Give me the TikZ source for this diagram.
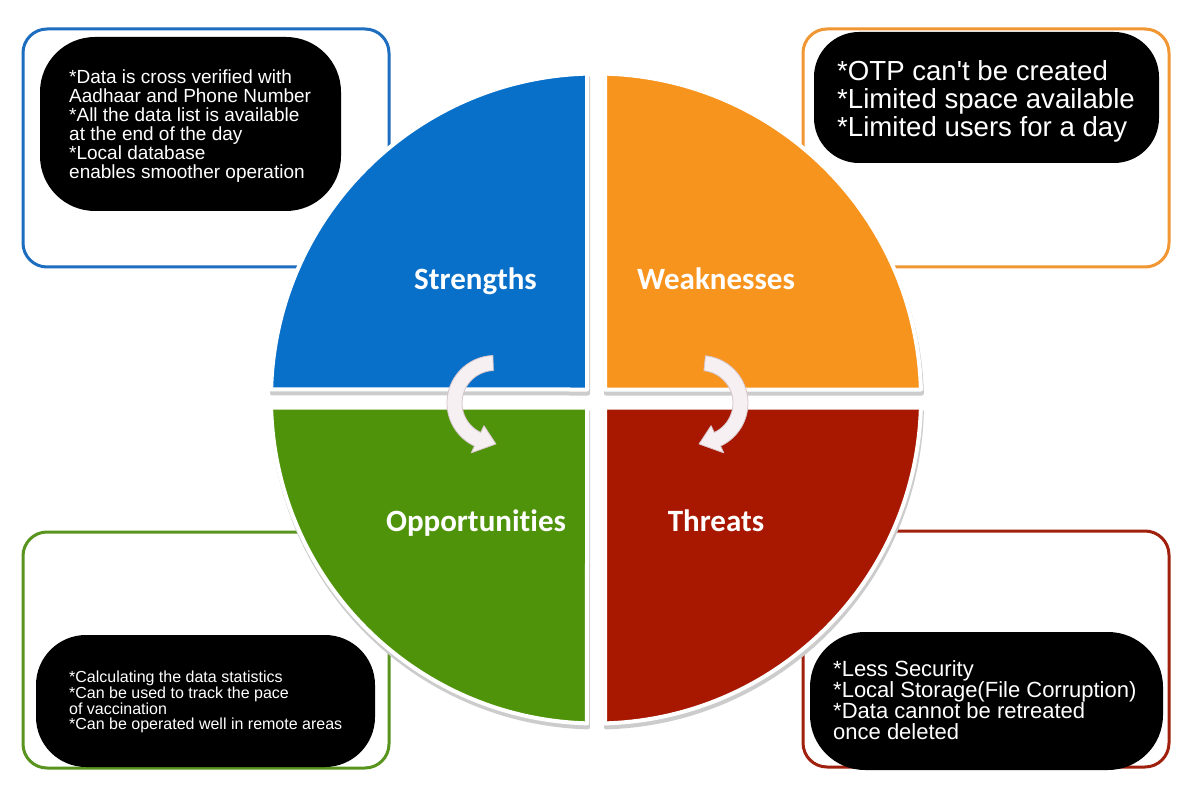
\documentclass[tikz,border=0pt]{standalone}
\usepackage{fontspec}
\setmainfont{Liberation Sans}
\newfontfamily\arialfont{Liberation Sans}
\newfontfamily\labelfont{Carlito}[Ligatures=NoCommon]
\usetikzlibrary{calc}

\definecolor{qblue}{RGB}{9,112,201}
\definecolor{qorange}{RGB}{247,148,30}
\definecolor{qgreen}{RGB}{79,147,11}
\definecolor{qred}{RGB}{168,24,0}
\definecolor{bblue}{RGB}{30,110,192}
\definecolor{borange}{RGB}{240,150,50}
\definecolor{bgreen}{RGB}{88,148,30}
\definecolor{bred}{RGB}{160,32,14}
\definecolor{arrowfill}{RGB}{246,240,242}
\definecolor{arrowedge}{RGB}{215,198,204}

\begin{document}
\begin{tikzpicture}[x=1pt,y=1pt,
  outerbox/.style={line width=3pt, rounded corners=24pt},
  blackbox/.style={fill=black},
  quad/.style={draw=white, line width=4pt, line join=round},
  qshadow/.style={fill=black!20, draw=black!20, line width=4pt, line join=round},
  qlabel/.style={text=white, font=\labelfont\bfseries\fontsize{31}{36}\selectfont, anchor=base, inner sep=0pt},
  itemtext/.style={text=white, align=left, anchor=north west, inner sep=0pt},
  cyc/.style={fill=arrowfill, draw=arrowedge, line width=0.8pt, line join=round},
  cycshadow/.style={fill=black!45, draw=none, opacity=0.45}
]
\useasboundingbox (0,0) rectangle (1202,-794);
\fill[white] (0,0) rectangle (1202,-794);

% outer frames
\draw[outerbox, draw=bblue]   (23,-29)  rectangle (389,-267);
\draw[outerbox, draw=borange] (803,-29) rectangle (1169,-267);
\draw[outerbox, draw=bgreen]  (23,-532) rectangle (389,-768);
\draw[outerbox, draw=bred]    (803,-531) rectangle (1169,-767);

% black text boxes
\fill[blackbox, rounded corners=55pt] (40,-37)  rectangle (341,-211);
\fill[blackbox, rounded corners=45pt] (814,-32) rectangle (1159,-163);
\fill[blackbox, rounded corners=50pt] (36,-635) rectangle (375,-767);
\fill[blackbox, rounded corners=55pt] (810,-632) rectangle (1163,-770);

\node[itemtext, font=\arialfont\fontsize{19}{18.9}\selectfont] (stxt) at (69,-70)
  {*Data is cross verified with\\Aadhaar and Phone Number\\*All the data list is available\\at the end of the day\\*Local database\\enables smoother operation};
\node[itemtext, font=\arialfont\fontsize{27.6}{28.3}\selectfont] (wtxt) at (837,-60)
  {*OTP can't be created\\*Limited space available\\*Limited users for a day};
\node[itemtext, font=\arialfont\fontsize{16}{15.7}\selectfont] (otxt) at (69,-671)
  {*Calculating the data statistics\\*Can be used to track the pace\\of vaccination\\*Can be operated well in remote areas};
\node[itemtext, font=\arialfont\fontsize{22}{21}\selectfont] (ttxt) at (833,-660)
  {*Less Security\\*Local Storage(File Corruption)\\*Data cannot be retreated\\once deleted};

% quadrant shadows
\begin{scope}[yshift=-4pt, xshift=1pt]
\fill[qshadow] (587,-389.5) -- (587,-73.625) arc[start angle=91.587,end angle=178.413,radius=325] -- cycle;
\fill[qshadow] (605,-389.5) -- (920.875,-389.5) arc[start angle=1.587,end angle=88.413,radius=325] -- cycle;
\fill[qshadow] (587,-407.5) -- (271.125,-407.5) arc[start angle=181.587,end angle=268.413,radius=325] -- cycle;
\fill[qshadow] (605,-407.5) -- (605,-723.375) arc[start angle=271.587,end angle=358.413,radius=325] -- cycle;
\end{scope}

% quadrants
\filldraw[quad, fill=qblue]   (587,-389.5) -- (587,-73.625) arc[start angle=91.587,end angle=178.413,radius=325] -- cycle;
\filldraw[quad, fill=qorange] (605,-389.5) -- (920.875,-389.5) arc[start angle=1.587,end angle=88.413,radius=325] -- cycle;
\filldraw[quad, fill=qgreen]  (587,-407.5) -- (271.125,-407.5) arc[start angle=181.587,end angle=268.413,radius=325] -- cycle;
\filldraw[quad, fill=qred]    (605,-407.5) -- (605,-723.375) arc[start angle=271.587,end angle=358.413,radius=325] -- cycle;

% labels
\node[qlabel] (slab) at (475.5,-290) {Strengths};
\node[qlabel] (wlab) at (716,-290) {Weaknesses};
\node[qlabel] (olab) at (476,-531) {Opportunities};
\node[qlabel] (tlab) at (716,-531) {Threats};

% cycle arrows
\coordinate (LA) at (494.5,-403);
\coordinate (RA) at (700.5,-403);
\begin{scope}[xshift=1.5pt, yshift=-2.5pt]
\fill[cycshadow] ([shift={(92:47.5)}]LA) arc[start angle=92,end angle=245,radius=47.5]
  -- ([shift={(245:55)}]LA) -- ([shift={(272:41)}]LA) -- ([shift={(245:25)}]LA)
  -- ([shift={(245:32.5)}]LA) arc[start angle=245,end angle=92,radius=32.5] -- cycle;
\fill[cycshadow] ([shift={(84:47.5)}]RA) arc[start angle=84,end angle=-65,radius=47.5]
  -- ([shift={(-65:55)}]RA) -- ([shift={(-92:41)}]RA) -- ([shift={(-65:25)}]RA)
  -- ([shift={(-65:32.5)}]RA) arc[start angle=-65,end angle=84,radius=32.5] -- cycle;
\end{scope}
\filldraw[cyc] ([shift={(92:47.5)}]LA) arc[start angle=92,end angle=245,radius=47.5]
  -- ([shift={(245:55)}]LA) -- ([shift={(272:41)}]LA) -- ([shift={(245:25)}]LA)
  -- ([shift={(245:32.5)}]LA) arc[start angle=245,end angle=92,radius=32.5] -- cycle;
\filldraw[cyc] ([shift={(84:47.5)}]RA) arc[start angle=84,end angle=-65,radius=47.5]
  -- ([shift={(-65:55)}]RA) -- ([shift={(-92:41)}]RA) -- ([shift={(-65:25)}]RA)
  -- ([shift={(-65:32.5)}]RA) arc[start angle=-65,end angle=84,radius=32.5] -- cycle;
\end{tikzpicture}
\end{document}
